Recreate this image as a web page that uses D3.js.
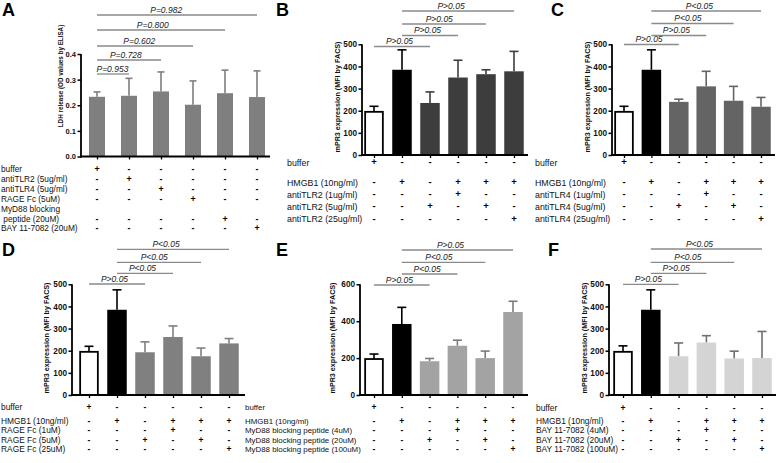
<!DOCTYPE html>
<html><head><meta charset="utf-8">
<script src="https://cdn.jsdelivr.net/npm/d3@7"></script>
<style>body{margin:0;background:#fff}svg{display:block;font-family:"Liberation Sans",Arial,sans-serif}</style>
</head><body><svg id="c" width="778" height="463"></svg>
<script>
// ---------- DATA ----------
const A_rows = ["buffer","antiTLR2 (5ug/ml)","antiTLR4 (5ug/ml)","RAGE Fc (5uM)",["MyD88 blocking"," peptide (20uM)"],"BAY 11-7082 (20uM)"];
const A_means = [0.233,0.237,0.254,0.202,0.247,0.232];
const A_sd = [0.019,0.068,0.076,0.093,0.090,0.102];
const A_signs = ["+-----","-+----","--+---","---+--","----+-","-----+"];
const A_pairs = [[0,1],[0,2],[0,3],[0,4],[0,5]];
const A_pvals = ["P=0.953","P=0.728","P=0.602","P=0.800","P=0.982"];
const A_ticks = [0,0.1,0.2,0.3,0.4];
const A_ylabel = "LDH release (OD values by ELISA)";

const B_rows = ["buffer","HMGB1 (10ng/ml)","antiTLR2 (1ug/ml)","antiTLR2 (5ug/ml)","antiTLR2 (25ug/ml)"];
const B_means = [195,385,235,350,365,378];
const B_sd = [25,90,50,78,20,90];
const B_pvals = ["P>0.05","P>0.05","P>0.05","P>0.05"];

const C_rows = ["buffer","HMGB1 (10ng/ml)","antiTLR4 (1ug/ml)","antiTLR4 (5ug/ml)","antiTLR4 (25ug/ml)"];
const C_means = [195,385,240,310,245,218];
const C_sd = [25,90,12,68,65,42];
const C_pvals = ["P>0.05","P>0.05","P<0.05","P<0.05"];

const D_rows = ["buffer","HMGB1 (10ng/ml)","RAGE Fc (1uM)","RAGE Fc (5uM)","RAGE Fc (25uM)"];
const D_means = [195,385,193,262,175,233];
const D_sd = [25,90,47,50,37,22];
const D_pvals = ["P>0.05","P<0.05","P<0.05","P<0.05"];

const E_rows = ["buffer","HMGB1 (10ng/ml)","MyD88 blocking peptide (4uM)","MyD88 blocking peptide (20uM)","MyD88 blocking peptide (100uM)"];
const E_means = [195,385,183,267,200,450];
const E_sd = [27,90,15,30,38,58];
const E_pvals = ["P>0.05","P<0.05","P<0.05","P>0.05"];

const F_rows = ["buffer","HMGB1 (10ng/ml)","BAY 11-7082 (4uM)","BAY 11-7082 (20uM)","BAY 11-7082 (100uM)"];
const F_means = [195,385,175,237,165,167];
const F_sd = [27,90,60,31,33,120];
const F_pvals = ["P>0.05","P>0.05","P<0.05","P<0.05"];

const BF_signs = ["+-----","-+-+++","---+--","--+-+-","-----+"];
const BF_pairs = [[0,2],[1,3],[1,4],[1,5]];
const BF_ylabel = "mPR3 expression (MFI by FACS)";
const ticks500 = [0,100,200,300,400,500];
const ticks600 = [0,200,400,600];

// ---------- LAYOUT / STYLE ----------
const svg = d3.select("#c");
const panels = [
 {letter:"A",lx:2,ly:16,rows:A_rows,means:A_means,sd:A_sd,signs:A_signs,pairs:A_pairs,pvals:A_pvals,ticks:A_ticks,fmt:d3.format(".1f"),ymax:0.4,
  axisX:81,axisEnd:270,y0:156.5,yTop:54,x0:97,x1:257,bw:16,cap:3.5,color:"#7f7f7f",errColor:"#7f7f7f",special:false,
  ylabel:A_ylabel,ylx:61,yly:76,ylfs:6.3,tickfs:7.5,labelX:1,rowY:[169,179,189,199,219,228.5],rowfs:8.3,bracketY:[74,60,46,30,15],signfs:8.8},
 {letter:"B",lx:276,ly:16,rows:B_rows,means:B_means,sd:B_sd,signs:BF_signs,pairs:BF_pairs,pvals:B_pvals,ticks:ticks500,fmt:d3.format("d"),ymax:500,
  axisX:362,axisEnd:528,y0:155,yTop:44.3,x0:374,x1:514,bw:19.5,cap:4.5,color:"#3d3d3d",errColor:"#3d3d3d",special:true,
  ylabel:BF_ylabel,ylx:337,yly:97,ylfs:7.2,tickfs:8.2,labelX:287,rowY:[162.5,182.5,194.5,206.5,219],rowfs:8.8,bracketY:[46.5,35.5,24,11],signfs:9.5},
 {letter:"C",lx:551,ly:16,rows:C_rows,means:C_means,sd:C_sd,signs:BF_signs,pairs:BF_pairs,pvals:C_pvals,ticks:ticks500,fmt:d3.format("d"),ymax:500,
  axisX:612,axisEnd:775,y0:155,yTop:44.3,x0:624,x1:761,bw:19.5,cap:4.5,color:"#646464",errColor:"#646464",special:true,
  ylabel:BF_ylabel,ylx:587,yly:97,ylfs:7.2,tickfs:8.2,labelX:535,rowY:[162.5,182.5,194.5,206.5,219],rowfs:8.8,bracketY:[44.5,35.5,23.5,11],signfs:9.5},
 {letter:"D",lx:2,ly:256,rows:D_rows,means:D_means,sd:D_sd,signs:BF_signs,pairs:BF_pairs,pvals:D_pvals,ticks:ticks500,fmt:d3.format("d"),ymax:500,
  axisX:72,axisEnd:245,y0:395,yTop:284.3,x0:89,x1:229,bw:19.5,cap:4.5,color:"#808080",errColor:"#808080",special:true,
  ylabel:BF_ylabel,ylx:46,yly:338,ylfs:7.2,tickfs:8.2,labelX:1,rowY:[407.5,421,430.5,440,449.5],rowfs:8.4,bracketY:[284,273.3,262.3,249.3],signfs:8.5},
 {letter:"E",lx:276,ly:256,rows:E_rows,means:E_means,sd:E_sd,signs:BF_signs,pairs:BF_pairs,pvals:E_pvals,ticks:ticks600,fmt:d3.format("d"),ymax:600,
  axisX:360,axisEnd:528,y0:395,yTop:284.3,x0:374,x1:513,bw:19.5,cap:4.5,color:"#a3a3a3",errColor:"#7a7a7a",special:true,
  ylabel:BF_ylabel,ylx:332,yly:338,ylfs:7.2,tickfs:8.2,labelX:245,rowY:[407.5,421,430.5,440,449.5],rowfs:7.9,bracketY:[285,274,262.3,250],signfs:8.5},
 {letter:"F",lx:548,ly:256,rows:F_rows,means:F_means,sd:F_sd,signs:BF_signs,pairs:BF_pairs,pvals:F_pvals,ticks:ticks500,fmt:d3.format("d"),ymax:500,
  axisX:609,axisEnd:776,y0:395,yTop:284.3,x0:623,x1:762,bw:19.5,cap:4.5,color:"#d4d4d4",errColor:"#6f6f6f",special:true,
  ylabel:BF_ylabel,ylx:584,yly:338,ylfs:7.2,tickfs:8.2,labelX:536,rowY:[408.5,421,430.5,440,449.5],rowfs:8.4,bracketY:[284.3,273.3,262.3,249],signfs:8.5}
];

function draw(p){
  const n = p.means.length;
  const g = svg.append("g");
  const y = d3.scaleLinear().domain([0,p.ymax]).range([p.y0,p.yTop]);
  const x = d3.scalePoint().domain(d3.range(n)).range([p.x0,p.x1]);
  const fillOf = i => p.special ? (i===0 ? "#fff" : i===1 ? "#000" : p.color) : p.color;
  const errOf = i => p.special ? (i<2 ? "#000" : p.errColor) : p.errColor;

  // error bars (upper whisker)
  const eb = g.append("g");
  p.means.forEach((m,i)=>{
    const c = errOf(i);
    eb.append("line").attr("x1",x(i)).attr("x2",x(i)).attr("y1",y(m)).attr("y2",y(m+p.sd[i])).attr("stroke",c).attr("stroke-width",1.6);
    eb.append("line").attr("x1",x(i)-p.cap).attr("x2",x(i)+p.cap).attr("y1",y(m+p.sd[i])).attr("y2",y(m+p.sd[i])).attr("stroke",c).attr("stroke-width",1.6);
  });
  // bars
  g.selectAll("rect.bar").data(p.means).join("rect").attr("class","bar")
    .attr("x",(d,i)=>x(i)-p.bw/2 + (p.special&&i===0?0.9:0))
    .attr("y",d=>y(d))
    .attr("width",(d,i)=>p.bw-(p.special&&i===0?1.8:0))
    .attr("height",d=>y(0)-y(d))
    .attr("fill",(d,i)=>fillOf(i))
    .attr("stroke",(d,i)=>p.special&&i===0?"#000":"none")
    .attr("stroke-width",1.8);

  // y axis
  const ya = g.append("g").attr("transform",`translate(${p.axisX},0)`)
    .call(d3.axisLeft(y).tickValues(p.ticks).tickFormat(p.fmt).tickSize(3.5).tickSizeOuter(0).tickPadding(1.5));
  ya.select(".domain").attr("stroke-width",1.8).attr("d",`M0,${p.y0+0.9}V${p.yTop}`);
  ya.selectAll(".tick line").attr("stroke-width",1.5);
  ya.selectAll(".tick text").attr("font-size",p.tickfs).attr("font-weight","bold").attr("fill","#111").attr("font-family","Liberation Sans, Arial, sans-serif");

  // x axis
  const xa = g.append("g").attr("transform",`translate(0,${p.y0})`)
    .call(d3.axisBottom(x).tickSize(3).tickFormat(""));
  xa.select(".domain").attr("stroke-width",1.8).attr("d",`M${p.axisX-0.9},0H${p.axisEnd}`);
  xa.selectAll(".tick line").attr("stroke-width",1.3);

  // y label
  g.append("text").attr("transform",`translate(${p.ylx + p.ylfs*0.35},${p.yly}) rotate(-90)`)
    .attr("text-anchor","middle").attr("font-size",p.ylfs).attr("font-weight","bold").attr("fill","#111").text(p.ylabel);

  // brackets
  p.pairs.forEach((pr,k)=>{
    const xa1 = x(pr[0]), xb = x(pr[1]), ly = p.bracketY[k];
    g.append("line").attr("x1",xa1).attr("x2",xb).attr("y1",ly).attr("y2",ly).attr("stroke","#8a8a8a").attr("stroke-width",1.3);
    g.append("text").attr("x",xa1 + 0.42*(xb-xa1) + 2).attr("y",ly-2.5).attr("text-anchor","middle")
      .attr("font-size",8.5).attr("font-style","italic").attr("fill","#222").text(p.pvals[k]);
  });

  // row labels and signs
  p.rows.forEach((r,ri)=>{
    const ry = p.rowY[ri];
    if (Array.isArray(r)) {
      r.forEach((line,li)=>{
        g.append("text").attr("x",p.labelX).attr("y",ry-(r.length-1-li)*10 + p.rowfs*0.35).attr("font-size",p.rowfs).attr("fill","#111")
          .attr("xml:space","preserve").style("white-space","pre").text(line);
      });
    } else {
      g.append("text").attr("x",p.labelX).attr("y",ry + p.rowfs*0.35).attr("font-size",p.rowfs).attr("fill","#111").text(r);
    }
    p.signs[ri].split("").forEach((s,ci)=>{
      g.append("text").attr("x",x(ci)).attr("y",ry + p.signfs*0.3).attr("text-anchor","middle")
        .attr("font-size",p.signfs).attr("font-weight","bold").attr("fill","#000").text(s);
    });
  });

  // panel letter
  g.append("text").attr("x",p.lx).attr("y",p.ly).attr("font-size",18).attr("font-weight","bold").attr("fill","#000").text(p.letter);
}
panels.forEach(draw);
</script></body></html>
